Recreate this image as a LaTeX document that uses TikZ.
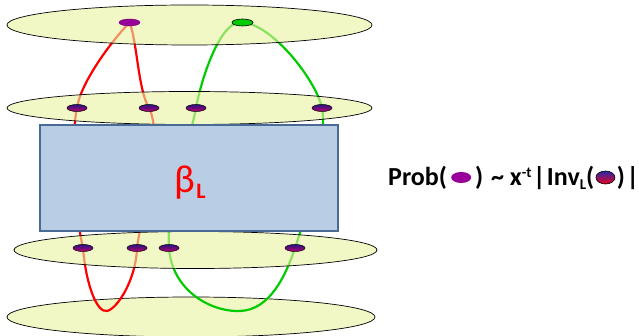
\documentclass[tikz,border=0pt]{standalone}
\usepackage{fontspec}
\setmainfont{Carlito}
\usetikzlibrary{shapes.geometric,calc}
\definecolor{ellfill}{RGB}{233,241,160}
\definecolor{ellsolid}{RGB}{242,247,198}
\definecolor{boxfill}{RGB}{185,205,228}
\definecolor{boxline}{RGB}{74,106,150}
\definecolor{dotpurple}{RGB}{153,0,153}
\definecolor{dotgreen}{RGB}{0,204,0}
\definecolor{gtop}{RGB}{40,20,130}
\definecolor{gbot}{RGB}{185,0,110}
\definecolor{rtop}{RGB}{40,40,170}
\definecolor{rbot}{RGB}{235,0,30}
\definecolor{curvegreen}{RGB}{0,204,0}
\pgfdeclarelayer{bg}\pgfdeclarelayer{cur}\pgfdeclarelayer{ell}
\pgfsetlayers{bg,cur,ell,main}
\begin{document}
\begin{tikzpicture}[x=1pt,y=-1pt,
  plane/.style={ellipse, draw=black, line width=0.7pt, fill=ellfill, fill opacity=0.6, inner sep=0pt},
  solidplane/.style={ellipse, draw=black, line width=0.7pt, fill=ellsolid, inner sep=0pt},
  gdot/.style={ellipse, draw=black, line width=0.5pt, top color=gtop, bottom color=gbot, minimum width=20pt, minimum height=7pt, inner sep=0pt},
  redline/.style={draw=red, line width=2.2pt},
  greenline/.style={draw=curvegreen, line width=2.2pt},
  rtext/.style={font=\fontsize{26}{26}\selectfont\bfseries, inner sep=0pt, anchor=base west}]
\useasboundingbox (0,0) rectangle (639,336);

% dots (main layer, on top)
\node[ellipse, fill=dotpurple, draw=dotpurple!70!black, line width=0.4pt, minimum width=21pt, minimum height=7pt, inner sep=0pt] (t1) at (129.5,22.5) {};
\node[ellipse, fill=dotgreen, draw=black, line width=0.6pt, minimum width=21pt, minimum height=7pt, inner sep=0pt] (tg) at (242.5,22.5) {};
\node[gdot] (a1) at (77,108) {};
\node[gdot] (a2) at (149,108) {};
\node[gdot] (a3) at (196,108) {};
\node[gdot] (a4) at (322,108) {};
\node[gdot] (b1) at (83,248) {};
\node[gdot] (b2) at (137,248) {};
\node[gdot] (b3) at (169,248) {};
\node[gdot] (b4) at (295,248) {};

\begin{pgfonlayer}{bg}
  \node[solidplane, minimum width=368pt, minimum height=40pt] (p4) at (191,317) {};
\end{pgfonlayer}

\begin{pgfonlayer}{cur}
  % red loop
  \draw[redline] (t1.center) .. controls (108,45) and (80,85) .. (a1.center);
  \draw[redline] (a1.center) .. controls (70,140) and (76,220) .. (b1.center);
  \draw[redline] (b1.center) .. controls (86,285) and (97,313) .. (107,311)
                 .. controls (117,309) and (136,280) .. (b2.center);
  \draw[redline] (b2.center) .. controls (140,220) and (165,140) .. (a2.center);
  \draw[redline] (a2.center) .. controls (138,90) and (137,40) .. (t1.center);
  % green loop
  \draw[greenline] (tg.center) .. controls (222,18) and (202,75) .. (a3.center);
  \draw[greenline] (tg.center) .. controls (272,24) and (316,80) .. (a4.center);
  \draw[greenline] (a3.center) .. controls (188,150) and (166,200) .. (b3.center);
  \draw[greenline] (b3.center) .. controls (172,290) and (210,312) .. (240,311)
                   .. controls (270,310) and (286,275) .. (b4.center);
  \draw[greenline] (b4.center) .. controls (308,210) and (328,140) .. (a4.center);
\end{pgfonlayer}

\begin{pgfonlayer}{ell}
  \node[plane, minimum width=365pt, minimum height=40pt] (p1) at (189.5,25) {};
  \node[plane, minimum width=365pt, minimum height=33pt] (p2) at (189.5,108) {};
  \node[plane, minimum width=363pt, minimum height=37pt] (p3) at (195.5,250) {};
  \node[draw=boxline, fill=boxfill, line width=1.3pt, minimum width=298pt, minimum height=106pt, inner sep=0pt] (box) at (189,178) {};
\end{pgfonlayer}

% beta_L
\node[text=red, font=\fontsize{39}{39}\selectfont, inner sep=0pt, anchor=base west] (beta) at (174,193) {β};
\node[text=red, font=\fontsize{22}{22}\selectfont\bfseries, inner sep=0pt, anchor=base west] (betaL) at ($(beta.base east)+(1,6)$) {L};

% formula
\node[rtext] (f1) at (388,186) {Prob(};
\node[ellipse, fill=dotpurple, inner sep=0pt, minimum width=20pt, minimum height=11pt] (fe1) at ($(f1.base east)+(14,-8.5)$) {};
\node[rtext] (f2) at ($(fe1.east)+(3.5,8.5)$) {)\kern2pt{} \textasciitilde{} x\raisebox{8pt}{\fontsize{15}{15}\selectfont -t}\kern1.5pt|\kern1.5pt Inv\raisebox{-4pt}{\fontsize{15}{15}\selectfont L}(};
\node[ellipse, draw=black, line width=0.6pt, top color=rtop, bottom color=rbot, inner sep=0pt, minimum width=19pt, minimum height=13pt] (fe2) at ($(f2.base east)+(11,-8.5)$) {};
\node[rtext] (f3) at ($(fe2.east)+(1.5,8.5)$) {)\kern1.5pt|};
\end{tikzpicture}
\end{document}
